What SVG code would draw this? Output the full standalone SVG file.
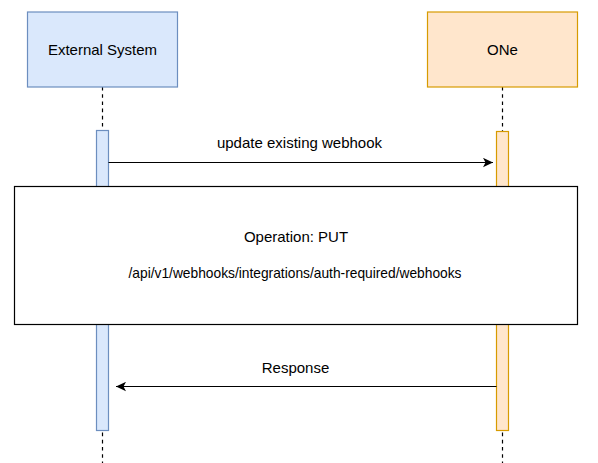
<svg xmlns="http://www.w3.org/2000/svg" width="598" height="463" viewBox="0 0 598 463">
  <style>
    text { font-family: "Liberation Sans", Arial, sans-serif; font-size: 15px; fill: #000; text-anchor: middle; }
    .life { stroke: #000; stroke-width: 1.2; stroke-dasharray: 3.6 3.6; fill: none; }
    .blue { fill: #dae8fc; stroke: #6c8ebf; stroke-width: 1.2; }
    .orange { fill: #ffe6cc; stroke: #d79b00; stroke-width: 1.2; }
    .msg { stroke: #000; stroke-width: 1.2; fill: none; }
    .frame { fill: #fff; stroke: #000; stroke-width: 1.2; }
  </style>
  <defs>
    <marker id="arrow" viewBox="0 0 10 10" refX="10" refY="5" markerWidth="10" markerHeight="10" markerUnits="userSpaceOnUse" orient="auto">
      <path d="M0,0.3 L10,5 L0,9.7 L2.5,5 Z" fill="#000"/>
    </marker>
  </defs>
  <rect width="598" height="463" fill="#fff"/>
  <g id="external-system">
    <line class="life" x1="102.5" y1="87" x2="102.5" y2="463"/>
    <rect class="blue" x="27.5" y="12" width="150" height="75"/>
    <text x="102.5" y="55">External System</text>
    <rect class="blue" x="96.5" y="130.5" width="12" height="300"/>
  </g>
  <g id="one">
    <line class="life" x1="502.5" y1="87" x2="502.5" y2="463"/>
    <rect class="orange" x="427.5" y="12" width="150" height="75"/>
    <text x="502.5" y="55">ONe</text>
    <rect class="orange" x="496.5" y="131.5" width="12" height="299"/>
  </g>
  <g id="connectors">
    <line class="msg" x1="108.5" y1="162.5" x2="493" y2="162.5" marker-end="url(#arrow)"/>
    <text x="299.5" y="148">update existing webhook</text>
    <line class="msg" x1="496.5" y1="386.5" x2="116" y2="386.5" marker-end="url(#arrow)"/>
    <text x="295.5" y="372.5">Response</text>
  </g>
  <g id="operation">
    <rect class="frame" x="14.5" y="186.5" width="563" height="138"/>
    <text x="296" y="241.5">Operation: PUT</text>
    <text x="295" y="278" textLength="333" lengthAdjust="spacingAndGlyphs">/api/v1/webhooks/integrations/auth-required/webhooks</text>
  </g>
</svg>
